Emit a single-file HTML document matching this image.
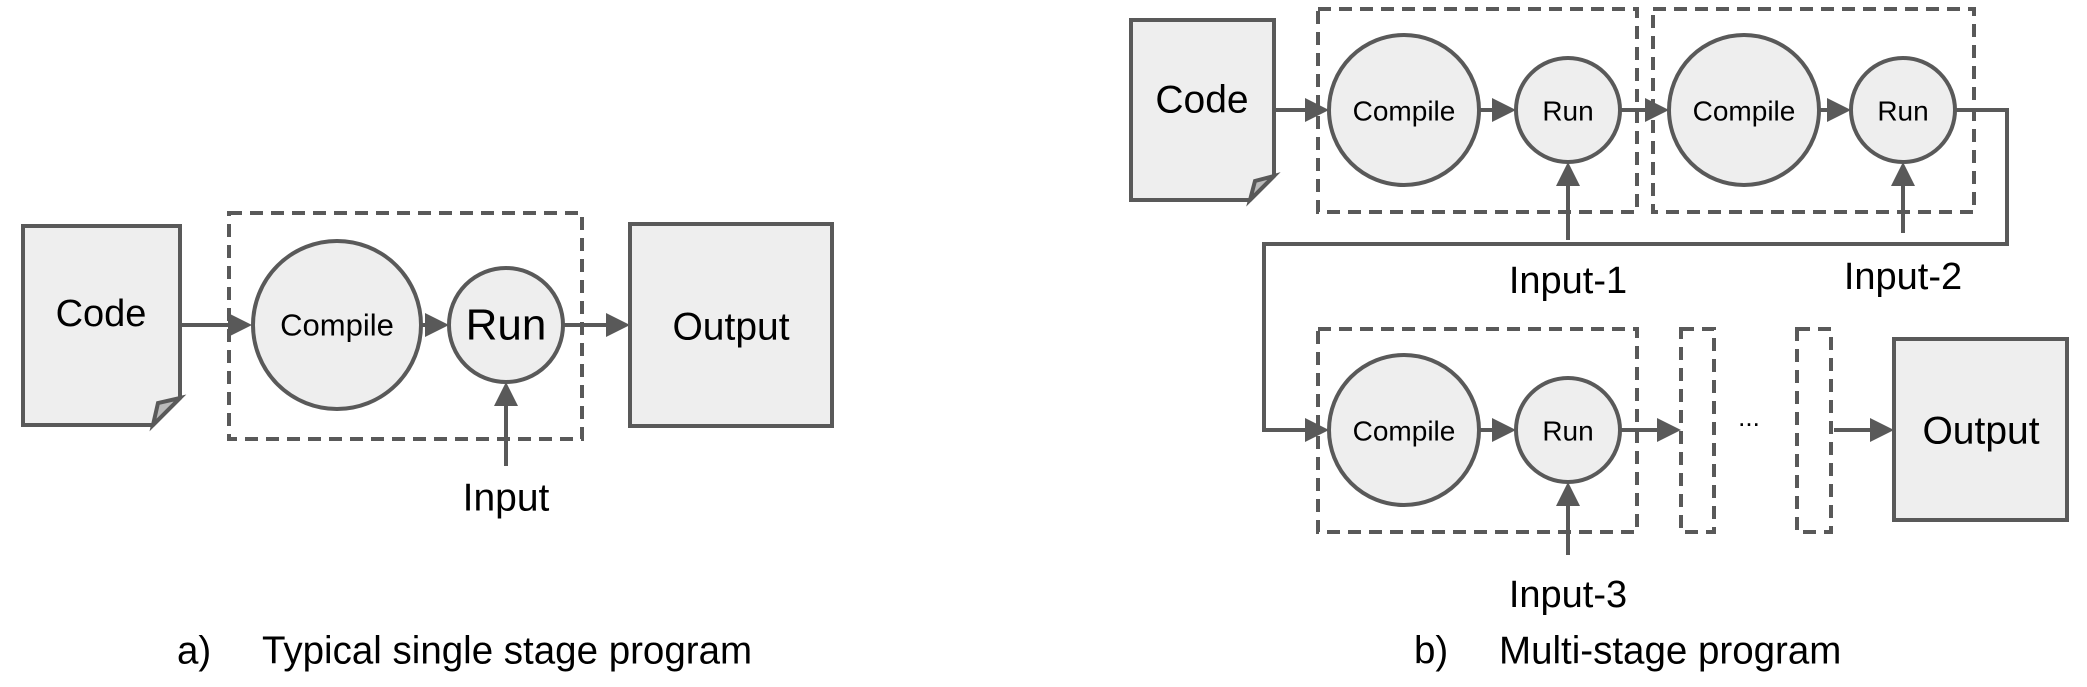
<!DOCTYPE html>
<html><head><meta charset="utf-8"><style>
html,body{margin:0;padding:0;background:#fff;}
svg{display:block;font-family:"Liberation Sans",Arial,sans-serif;}
</style></head><body>
<svg width="2087" height="687" viewBox="0 0 2087 687" xmlns="http://www.w3.org/2000/svg">
<defs>
<marker id="ah" markerWidth="6" markerHeight="6" refX="5" refY="3" orient="auto" markerUnits="strokeWidth">
<path d="M0,0 L6,3 L0,6 z" fill="#595959"/>
</marker>
</defs>
<g stroke="#595959" stroke-width="4" fill="#eeeeee">
<path d="M23,226 H180 V398 L153,425 H23 Z"/>
<path d="M153,425 L158,403 L180,398 Z" fill="#bbb"/>
<rect x="229" y="213" width="353" height="226" fill="none" stroke-dasharray="13,8"/>
<circle cx="337" cy="325" r="84"/>
<circle cx="506" cy="325" r="57"/>
<rect x="630" y="224" width="202" height="202"/>
<g fill="none" marker-end="url(#ah)">
<line x1="180" y1="325" x2="248" y2="325"/>
<line x1="421" y1="325" x2="445" y2="325"/>
<line x1="563" y1="325" x2="626" y2="325"/>
<line x1="506" y1="466" x2="506" y2="386"/>
</g>
<path d="M1131,20 H1274 V176 L1250,200 H1131 Z"/>
<path d="M1250,200 L1255,181 L1274,176 Z" fill="#bbb"/>
<rect x="1318" y="9" width="319" height="203" fill="none" stroke-dasharray="13,8"/>
<rect x="1653" y="9" width="321" height="203" fill="none" stroke-dasharray="13,8"/>
<rect x="1318" y="329" width="319" height="203" fill="none" stroke-dasharray="13,8"/>
<rect x="1681" y="329" width="33" height="203" fill="none" stroke-dasharray="13,8"/>
<rect x="1797" y="329" width="34" height="203" fill="none" stroke-dasharray="13,8"/>
<circle cx="1404" cy="110" r="75"/>
<circle cx="1568" cy="110" r="52"/>
<circle cx="1744" cy="110" r="75"/>
<circle cx="1903" cy="110" r="52"/>
<circle cx="1404" cy="430" r="75"/>
<circle cx="1568" cy="430" r="52"/>
<rect x="1894" y="339" width="173" height="181"/>
<g fill="none" marker-end="url(#ah)">
<line x1="1274" y1="110" x2="1325" y2="110"/>
<line x1="1479" y1="110" x2="1512" y2="110"/>
<line x1="1620" y1="110" x2="1665" y2="110"/>
<line x1="1819" y1="110" x2="1847" y2="110"/>
<polyline points="1955,110 2007,110 2007,244 1264,244 1264,430 1325,430"/>
<line x1="1479" y1="430" x2="1512" y2="430"/>
<line x1="1620" y1="430" x2="1677" y2="430"/>
<line x1="1834" y1="430" x2="1890" y2="430"/>
<line x1="1568" y1="240" x2="1568" y2="166"/>
<line x1="1903" y1="233" x2="1903" y2="166"/>
<line x1="1568" y1="555" x2="1568" y2="486"/>
</g>
</g>
<g fill="#000" text-anchor="middle" dominant-baseline="central">
<text x="101" y="314" font-size="38">Code</text>
<text x="337" y="325" font-size="31">Compile</text>
<text x="506" y="325" font-size="44">Run</text>
<text x="731" y="327" font-size="39">Output</text>
<text x="506" y="498" font-size="39">Input</text>
<text x="1202" y="100" font-size="39">Code</text>
<text x="1404" y="111" font-size="28">Compile</text>
<text x="1568" y="111" font-size="28">Run</text>
<text x="1744" y="111" font-size="28">Compile</text>
<text x="1903" y="111" font-size="28">Run</text>
<text x="1404" y="431" font-size="28">Compile</text>
<text x="1568" y="431" font-size="28">Run</text>
<text x="1749" y="417" font-size="26">...</text>
<text x="1981" y="431" font-size="39">Output</text>
<text x="1568" y="281" font-size="38">Input-1</text>
<text x="1903" y="277" font-size="38">Input-2</text>
<text x="1568" y="595" font-size="38">Input-3</text>
</g>
<g fill="#000" font-size="38.5" dominant-baseline="central">
<text x="177" y="651">a)</text>
<text x="262" y="651">Typical single stage program</text>
<text x="1414" y="651">b)</text>
<text x="1499" y="651">Multi-stage program</text>
</g>
</svg>
</body></html>
